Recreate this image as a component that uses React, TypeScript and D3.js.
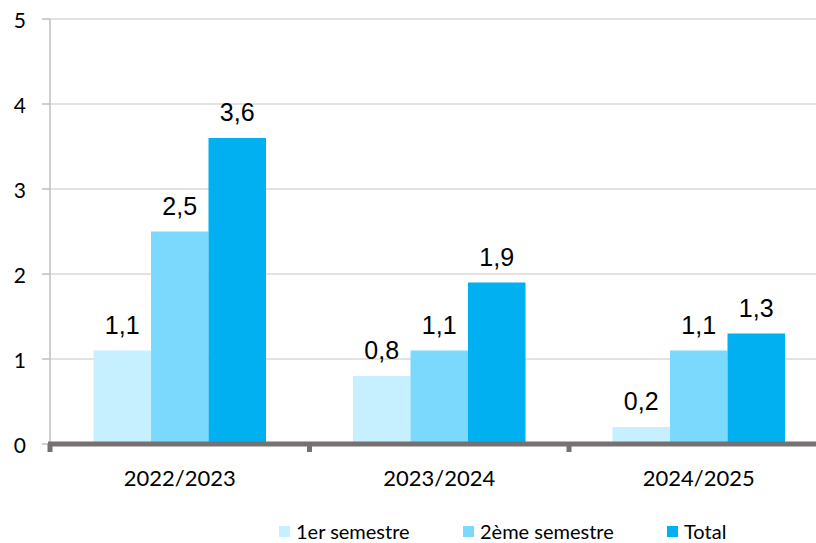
import React from 'react';
import { scaleLinear, scaleBand } from 'd3';

const years = ['2022/2023', '2023/2024', '2024/2025'];
const series = ['1er semestre', '2ème semestre', 'Total'];
const sem1 = [1.1, 0.8, 0.2];
const sem2 = [2.5, 1.1, 1.1];
const total = [3.6, 1.9, 1.3];
const yTicks = [0, 1, 2, 3, 4, 5];

const colors = ['#c6efff', '#7ad9fc', '#00b0f0'];

const App = () => {
  const width = 816;
  const height = 543;
  const left = 50;
  const top = 19;
  const bottom = 444;
  const step = 259.5;

  const values = [sem1, sem2, total];

  const yScale = scaleLinear().domain([0, 5]).range([bottom, top]);
  const xScale = scaleBand()
    .domain(years)
    .range([left, left + step * years.length])
    .paddingInner(0)
    .paddingOuter(0);
  const inner = scaleBand()
    .domain(series)
    .range([43.5, step - 43.5]);

  const fmt = (v: number) => v.toFixed(1).replace('.', ',');
  const legendX = [279, 463, 667];

  return (
    <svg width={width} height={height} style={{ display: 'block', position: 'absolute', left: 0, top: 0 }}>
      {yTicks.map(t => (
        <g key={t}>
          {t > 0 && (
            <line x1={left} x2={width} y1={yScale(t)} y2={yScale(t)} stroke="#d9d9d9" strokeWidth={1.5} />
          )}
          <line x1={42} x2={left} y1={yScale(t)} y2={yScale(t)} stroke="#bfbfbf" strokeWidth={1.5} />
          <text
            x={26}
            y={yScale(t)}
            textAnchor="end"
            dominantBaseline="central"
            fontFamily="Lato, 'Open Sans', sans-serif"
            fontSize={21}
            fill="#000"
          >{t}</text>
        </g>
      ))}
      <line x1={left} x2={left} y1={top} y2={bottom} stroke="#bfbfbf" strokeWidth={1.5} />

      {years.map((y, i) => (
        <g key={y} transform={`translate(${xScale(y)},0)`}>
          {series.map((s, j) => {
            const v = values[j][i];
            const x = inner(s)!;
            return (
              <g key={s}>
                <rect x={x} y={yScale(v)} width={inner.bandwidth()} height={bottom - yScale(v)} fill={colors[j]} />
                <text
                  x={x + inner.bandwidth() / 2}
                  y={yScale(v) - 17}
                  textAnchor="middle"
                  fontFamily="'Liberation Sans', Arial, sans-serif"
                  fontSize={25}
                  fill="#000"
                >{fmt(v)}</text>
              </g>
            );
          })}
          <text
            x={step / 2}
            y={477}
            textAnchor="middle"
            dominantBaseline="central"
            fontFamily="Lato, 'Open Sans', sans-serif"
            fontSize={22}
            fill="#000"
          >{y}</text>
        </g>
      ))}

      <line x1={left - 2} x2={width} y1={bottom} y2={bottom} stroke="#767171" strokeWidth={5} />
      {years.map(y => (
        <rect key={y} x={xScale(y)! - 2.5} y={bottom} width={5} height={8} fill="#767171" />
      ))}

      {series.map((s, j) => (
        <g key={s}>
          <rect x={legendX[j]} y={526} width={11} height={11} fill={colors[j]} />
          <text
            x={legendX[j] + 17}
            y={531}
            dominantBaseline="central"
            fontFamily="Lato, 'Open Sans', sans-serif"
            fontSize={20}
            fill="#000"
          >{s}</text>
        </g>
      ))}
    </svg>
  );
};

export default App;
